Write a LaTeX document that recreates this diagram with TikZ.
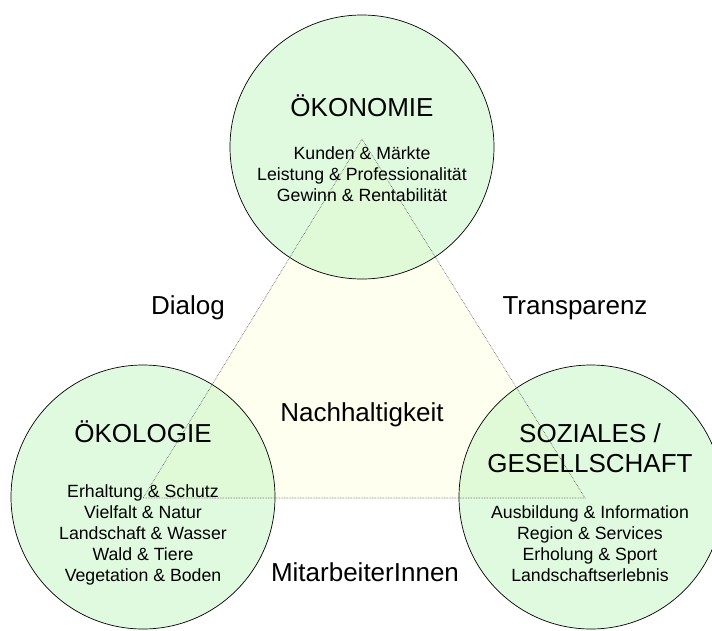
\documentclass[tikz,border=0pt]{standalone}
\usepackage{fontspec}
\setmainfont{Liberation Sans}
\definecolor{pillargreen}{RGB}{194,246,194}
\definecolor{coreivory}{RGB}{255,255,240}

\begin{document}
\begin{tikzpicture}[x=1pt,y=-1pt,
    pillar/.style={circle, draw=black, line width=0.7pt, fill=pillargreen, fill opacity=0.5, minimum size=264pt, inner sep=0pt},
    title/.style={font=\fontsize{26}{30}\selectfont, anchor=base},
    item/.style={font=\fontsize{17.7}{21}\selectfont, anchor=base}]
\useasboundingbox (0,0) rectangle (712,630);
% Triangle corners and area
\coordinate (apex) at (362,139);
\coordinate (left) at (143,498);
\coordinate (right) at (585,498);
\fill[coreivory] (apex) -- (left) -- (right) -- cycle;
% The three pillars
\node[pillar] (oekonomie) at (362,147) {};
\node[pillar] (oekologie) at (143,497) {};
\node[pillar] (soziales) at (591,497) {};
% Triangle edges
\draw[gray!60!black, densely dotted, line width=0.6pt] (apex) -- (left) -- (right) -- cycle;
% Titles
\node[title] (oekon-title) at (362,116) {ÖKONOMIE};
\node[title] (oekol-title) at (143,442) {ÖKOLOGIE};
\node[title] (sozial-title1) at (590,442) {SOZIALES /};
\node[title] (sozial-title2) at (590,472) {GESELLSCHAFT};
\node[title] (core) at (362,421) {Nachhaltigkeit};
% Side labels
\node[title] (dialog) at (188,314) {Dialog};
\node[title] (transparenz) at (575,314) {Transparenz};
\node[title] (mitarbeiter) at (365,581) {MitarbeiterInnen};
% Items
\foreach \txt [count=\i] in {Kunden \& Märkte, Leistung \& Professionalität, Gewinn \& Rentabilität}
    \node[item] (oekon-\i) at (362,138+21*\i) {\txt};
\foreach \txt [count=\i] in {Erhaltung \& Schutz, Vielfalt \& Natur, Landschaft \& Wasser, Wald \& Tiere, Vegetation \& Boden}
    \node[item] (oekol-\i) at (143,476+21*\i) {\txt};
\foreach \txt [count=\i] in {Ausbildung \& Information, Region \& Services, Erholung \& Sport, Landschaftserlebnis}
    \node[item] (sozial-\i) at (590,497+21*\i) {\txt};
\end{tikzpicture}
\end{document}
